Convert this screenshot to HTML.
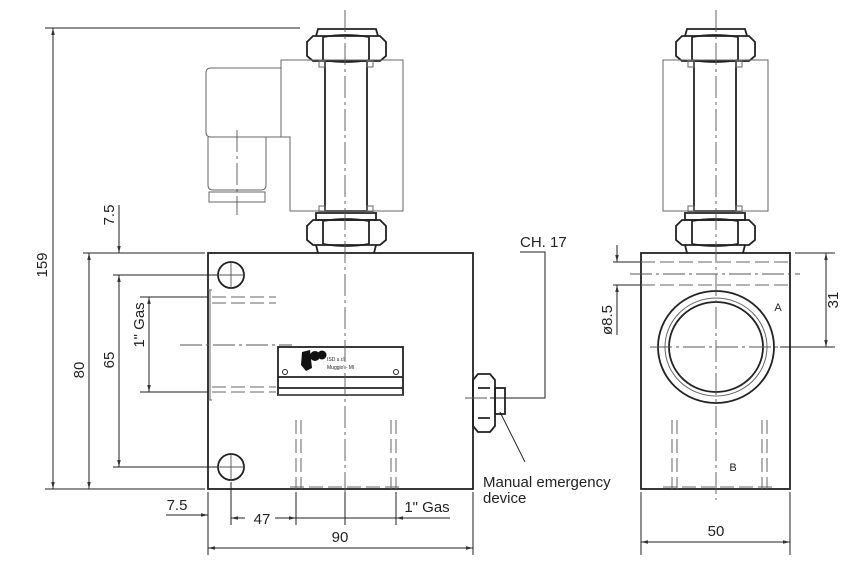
<!DOCTYPE html>
<html><head><meta charset="utf-8"><style>
html,body{margin:0;padding:0;background:#fff}
svg{display:block}
text{font-family:"Liberation Sans",sans-serif;fill:#222}
</style></head><body>
<svg width="842" height="578" viewBox="0 0 842 578" xmlns="http://www.w3.org/2000/svg">
<defs>
<marker id="a" viewBox="0 0 10 10" refX="10" refY="5" markerWidth="9" markerHeight="7" orient="auto-start-reverse" markerUnits="userSpaceOnUse"><path d="M0,2.5 L10,5 L0,7.5z" fill="#333"/></marker>
</defs>
<g fill="none" stroke="#222" stroke-width="1.8">
<!-- main body -->
<rect x="208" y="253" width="265" height="236"/>
<circle cx="231" cy="275" r="13"/>
<circle cx="231" cy="467" r="13"/>
<!-- top nut left view -->
<path d="M316,36 L318,29 H376 L378,36"/>
<path d="M313,36 H380 L386,42 V56 L380,61 H313 L307,56 V42Z"/>
<path d="M323,37 Q346,33 369,37 M323,60 Q346,64 369,60 M323,37 V60 M369,37 V60"/>
<rect x="325" y="61" width="42" height="150"/>
<path d="M316,213 H376 V220 H316Z"/>
<path d="M313,220 H380 L386,226 V240 L380,245 H313 L307,240 V226Z"/>
<path d="M323,221 Q346,217 369,221 M323,244 Q346,248 369,244 M323,221 V244 M369,221 V244"/>
<path d="M316,245 L318,253 M376,245 L374,253"/>
<!-- nameplate -->
<rect x="278" y="347" width="125" height="48"/>
<path d="M278,377 H403 M278,388 H403"/>
<!-- side nut -->
<path d="M478,374 H490 L495,380 V426 L490,432 H478 L473,426 V380Z"/>
<path d="M478,388 H490 M478,418 H490 M473,380 V426"/>
<rect x="495" y="388" width="10" height="26"/>
<!-- right view body -->
<rect x="641" y="253" width="149" height="236"/>
<ellipse cx="716" cy="347" rx="58" ry="56"/>
<ellipse cx="716" cy="347" rx="47" ry="45"/>
<path d="M685,36 L687,29 H745 L747,36"/>
<path d="M682,36 H749 L755,42 V56 L749,61 H682 L676,56 V42Z"/>
<path d="M692,37 Q715,33 738,37 M692,60 Q715,64 738,60 M692,37 V60 M738,37 V60"/>
<rect x="694" y="61" width="42" height="150"/>
<path d="M685,213 H745 V220 H685Z"/>
<path d="M682,220 H749 L755,226 V240 L749,245 H682 L676,240 V226Z"/>
<path d="M692,221 Q715,217 738,221 M692,244 Q715,248 738,244 M692,221 V244 M738,221 V244"/>
<path d="M685,245 L687,253 M745,245 L743,253"/>
</g>
<g fill="none" stroke="#666" stroke-width="1">
<!-- coil left -->
<path d="M281,60 H403 V211 H290 V137 H281 Z"/>
<path d="M281,68 H211 Q206,68 206,73 V132 Q206,137 211,137 H281"/>
<path d="M208,137 V185 Q208,190 213,190 H261 Q266,190 266,185 V137"/>
<rect x="209" y="192" width="56" height="10"/>
<rect x="319" y="61" width="6" height="6"/><rect x="367" y="61" width="6" height="6"/>
<rect x="319" y="206" width="6" height="6"/><rect x="367" y="206" width="6" height="6"/>
<!-- coil right -->
<rect x="663" y="60" width="105" height="151"/>
<rect x="688" y="61" width="6" height="6"/><rect x="736" y="61" width="6" height="6"/>
<rect x="688" y="206" width="6" height="6"/><rect x="736" y="206" width="6" height="6"/>
<ellipse cx="716" cy="347" rx="51" ry="49"/>
<rect x="286" y="306" width="0" height="0"/>
<path d="M210,290 V400 M208,290 H212 M208,400 H212"/>
<path d="M278,395 H403"/>
</g>
<!-- dashed hidden lines -->
<g fill="none" stroke="#666" stroke-width="1" stroke-dasharray="14,5">
<path d="M212,297 H276 M212,303 H276 M212,387 H276 M212,392 H276"/>
<path d="M296,420 V489 M301,420 V489 M391,420 V489 M396,420 V489 M290,487 H403"/>
<path d="M641,262 H790 M641,285 H790"/>
<path d="M672,420 V489 M677,420 V489 M762,420 V489 M767,420 V489 M663,487 H772"/>
</g>
<!-- center lines -->
<g fill="none" stroke="#555" stroke-width="0.9" stroke-dasharray="22,4,3,4">
<path d="M345,10 V500"/>
<path d="M180,345 H292"/>
<path d="M237,130 V215"/>
<path d="M465,398 H512"/>
<path d="M716,10 V500"/>
<path d="M630,274 H800"/>
<path d="M650,347 H780"/>
</g>
<g stroke="#555" stroke-width="0.9"><path d="M218,275 H244 M231,262 V288 M218,467 H244 M231,454 V480"/></g>
<!-- dimension lines -->
<g fill="none" stroke="#222" stroke-width="1">
<path d="M45,28 H300 M45,489 H205 M83,253 H205 M113,275 H218 M113,467 H218 M140,297 H208 M140,392 H208"/>
<path d="M53,28 V489" marker-start="url(#a)" marker-end="url(#a)"/>
<path d="M89,253 V489" marker-start="url(#a)" marker-end="url(#a)"/>
<path d="M119,275 V467" marker-start="url(#a)" marker-end="url(#a)"/>
<path d="M149,297 V392" marker-start="url(#a)" marker-end="url(#a)"/>
<path d="M119,205 V253" marker-end="url(#a)"/>
<path d="M119,275 V275"/>
<path d="M208,492 V555 M231,482 V525 M296,492 V525 M345,492 V525 M396,492 V525 M473,492 V555"/>
<path d="M166,515 H208" marker-end="url(#a)"/>
<path d="M245,518 H231" marker-end="url(#a)"/>
<path d="M275,518 H296" marker-end="url(#a)"/>
<path d="M296,518 H396"/>
<path d="M450,518 H396" marker-end="url(#a)"/>
<path d="M208,548 H473" marker-start="url(#a)" marker-end="url(#a)"/>
<path d="M641,492 V555 M790,492 V555"/>
<path d="M641,542 H790" marker-start="url(#a)" marker-end="url(#a)"/>
<path d="M795,253 H835 M780,347 H835"/>
<path d="M826,253 V347" marker-start="url(#a)" marker-end="url(#a)"/>
<path d="M613,262 H641 M613,285 H641"/>
<path d="M617,245 V262" marker-end="url(#a)"/>
<path d="M617,302 V285" marker-end="url(#a)"/>
<path d="M617,302 V335"/>
<path d="M520,252 H545 V398 H490"/>
<path d="M525,462 L500,412"/>
</g>
<!-- texts -->
<g font-size="15">
<text transform="translate(47,265) rotate(-90)" text-anchor="middle">159</text>
<text transform="translate(84,370) rotate(-90)" text-anchor="middle">80</text>
<text transform="translate(114,360) rotate(-90)" text-anchor="middle">65</text>
<text transform="translate(114,215) rotate(-90)" text-anchor="middle">7.5</text>
<text transform="translate(144,325) rotate(-90)" text-anchor="middle">1" Gas</text>
<text x="177" y="510" text-anchor="middle">7.5</text>
<text x="262" y="524" text-anchor="middle">47</text>
<text x="427" y="512" text-anchor="middle">1" Gas</text>
<text x="340" y="542" text-anchor="middle">90</text>
<text x="716" y="536" text-anchor="middle">50</text>
<text transform="translate(838,300) rotate(-90)" text-anchor="middle">31</text>
<text transform="translate(612,320) rotate(-90)" text-anchor="middle">ø8.5</text>
<text x="520" y="247">CH. 17</text>
<text x="483" y="487">Manual emergency</text>
<text x="483" y="503">device</text>
</g>
<text x="778" y="311" font-size="11" text-anchor="middle">A</text>
<text x="733" y="471" font-size="11" text-anchor="middle">B</text>
<!-- logo -->
<path d="M302,352 L310,350 L312,368 L306,371 L301,365Z" fill="#111"/>
<ellipse cx="315" cy="356" rx="5" ry="5" fill="#111"/>
<ellipse cx="322" cy="355" rx="4.5" ry="4.5" fill="#111"/>
<text x="327" y="361" font-size="5">ISD s.r.l.</text>
<text x="327" y="369" font-size="5">Muggio' - MI</text>
<circle cx="285" cy="372" r="2.5" fill="none" stroke="#222"/>
<circle cx="396" cy="372" r="2.5" fill="none" stroke="#222"/>
</svg>
</body></html>
